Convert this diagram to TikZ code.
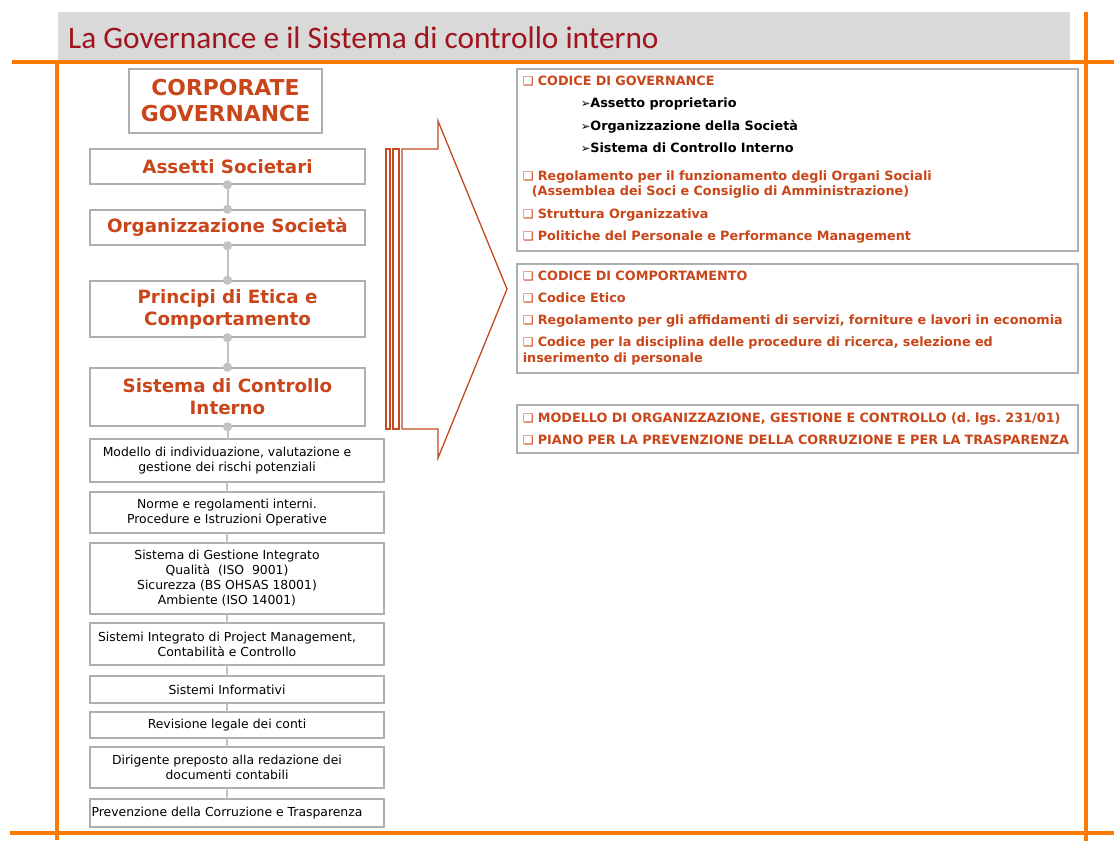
\documentclass[tikz,border=0pt]{standalone}
\usepackage{fontspec}
\usepackage{tikz}
\usetikzlibrary{arrows.meta}
\newfontfamily\verdana{DejaVu Sans}
\newfontfamily\calibri{Carlito}
\definecolor{orangeline}{RGB}{255,122,0}
\definecolor{titlered}{RGB}{160,20,30}
\definecolor{boxred}{RGB}{200,70,25}
\definecolor{boxgray}{RGB}{175,175,175}
\definecolor{dotgray}{RGB}{195,195,195}
\definecolor{bargray}{RGB}{217,217,217}
\definecolor{arrowred}{RGB}{195,75,35}
\newcommand{\sqbul}{{\fontsize{12}{12}\selectfont\char"2751}\ }
\newcommand{\subarr}{{\fontsize{11.5}{11.5}\selectfont\char"27A2}}
\frenchspacing

\begin{document}
\begin{tikzpicture}[x=1pt, y=-1pt,
    frame/.style={orangeline, line width=4pt},
    bigbox/.style={draw=boxgray, line width=1.5pt, fill=white, align=center, inner sep=0pt,
        text=boxred, font=\verdana\bfseries\fontsize{18.3}{22}\selectfont, minimum width=275pt},
    smallbox/.style={align=center, inner sep=0pt, minimum width=274pt,
        text=black, font=\verdana\fontsize{12.4}{15}\selectfont},
    smallframe/.style={boxgray, line width=1.5pt},
    listbox/.style={draw=boxgray, line width=1.5pt, anchor=north west, align=left, inner xsep=6pt,
        text width=549pt, text=boxred, font=\verdana\bfseries\fontsize{12.8}{15.5}\selectfont},
    link/.style={dotgray, line width=2pt},
    dotlink/.style={link, shorten <=-4.5pt, shorten >=-4.5pt, {Circle[length=9pt]}-{Circle[length=9pt]}},
    thinlink/.style={dotgray, line width=1.3pt}]
    \useasboundingbox (0,0) rectangle (1114,841);

    % frame and title
    \fill[bargray] (58,12) rectangle (1070,61);
    \draw[frame] (12,62) -- (1114,62);
    \draw[frame] (10,833) -- (1114,833);
    \draw[frame] (57,62) -- (57,840);
    \draw[frame] (1086,12) -- (1086,841);
    \node[anchor=west, inner sep=0pt, text=titlered, font=\calibri\fontsize{31.3}{33}\selectfont] (title) at (68,38) {La Governance e il Sistema di controllo interno};

    % left column
    \node[bigbox, minimum width=193pt, minimum height=64pt, font=\verdana\bfseries\fontsize{21.9}{26}\selectfont] (cg) at (225.5,101) {CORPORATE\\GOVERNANCE};
    \node[bigbox, minimum height=35pt] (as) at (227.5,166.5) {Assetti Societari};
    \node[bigbox, minimum height=35pt] (os) at (227.5,227.5) {Organizzazione Società};
    \node[bigbox, minimum height=56pt] (pe) at (227.5,309) {Principi di Etica e\\Comportamento};
    \node[bigbox, minimum height=58pt] (sc) at (227.5,397) {Sistema di Controllo\\Interno};

    \node[smallbox, minimum height=43pt] (m1) at (227,460.5) {Modello di individuazione, valutazione e\\gestione dei rischi potenziali};
    \node[smallbox, minimum height=41pt] (m2) at (227,512.5) {Norme e regolamenti interni.\\Procedure e Istruzioni Operative};
    \node[smallbox, minimum height=71pt] (m3) at (227,578.5) {Sistema di Gestione Integrato\\Qualità\ \ (ISO\ \ 9001)\\Sicurezza (BS OHSAS 18001)\\Ambiente (ISO 14001)};
    \node[smallbox, minimum height=42pt] (m4) at (227,644) {Sistemi Integrato di Project Management,\\Contabilità e Controllo};
    \node[smallbox, minimum height=27pt] (m5) at (227,689.5) {Sistemi Informativi};
    \node[smallbox, minimum height=26pt] (m6) at (227,725) {Revisione legale dei conti};
    \node[smallbox, minimum height=41pt] (m7) at (227,767.5) {Dirigente preposto alla redazione dei\\documenti contabili};
    \node[smallbox, minimum height=28pt] (m8) at (227,813) {Prevenzione della Corruzione e Trasparenza};
    \foreach \n in {m1,m2,m3,m4,m5,m6,m7,m8}
        \draw[smallframe] (\n.north west) rectangle ([xshift=20pt]\n.south east);

    \draw[dotlink] (as.south) -- (os.north);
    \draw[dotlink] (os.south) -- (pe.north);
    \draw[dotlink] (pe.south) -- (sc.north);
    \draw[link, shorten <=-4.5pt, {Circle[length=9pt]}-] (sc.south) -- (sc.south |- m1.north);
    \foreach \a/\b in {m1/m2, m2/m3, m3/m4, m4/m5, m5/m6, m6/m7, m7/m8}
        \draw[thinlink] (\a.south) -- (\b.north);

    % big arrow
    \draw[arrowred, line width=1.3pt] (386,149) rectangle (390,429);
    \draw[arrowred, line width=1.3pt] (393,149) rectangle (399,429);
    \draw[arrowred, line width=1.3pt, line join=miter] (402,149) -- (438,149) -- (438,121) -- (507,289)
        -- (438,458) -- (438,429) -- (402,429) -- cycle;

    % right column
    \node[listbox, minimum height=182pt] (gov) at (516,68) {%
        \sqbul CODICE DI GOVERNANCE\\[7pt]
        \hspace*{58pt}{\color{black}\subarr Assetto proprietario}\\[7pt]
        \hspace*{58pt}{\color{black}\subarr Organizzazione della Società}\\[7pt]
        \hspace*{58pt}{\color{black}\subarr Sistema di Controllo Interno}\\[12pt]
        \sqbul Regolamento per il funzionamento degli Organi Sociali\\
        \hspace*{9pt}(Assemblea dei Soci e Consiglio di Amministrazione)\\[7pt]
        \sqbul Struttura Organizzativa\\[7pt]
        \sqbul Politiche del Personale e Performance Management};
    \node[listbox, minimum height=109pt] (comp) at (516,263) {%
        \sqbul CODICE DI COMPORTAMENTO\\[6.5pt]
        \sqbul Codice Etico\\[6.5pt]
        \sqbul Regolamento per gli affidamenti di servizi, forniture e lavori in economia\\[6.5pt]
        \sqbul Codice per la disciplina delle procedure di ricerca, selezione ed\\
        inserimento di personale};
    \node[listbox, minimum height=48pt] (mod) at (516,404) {%
        \sqbul MODELLO DI ORGANIZZAZIONE, GESTIONE E CONTROLLO (d. lgs. 231/01)\\[6.5pt]
        \sqbul PIANO PER LA PREVENZIONE DELLA CORRUZIONE E PER LA TRASPARENZA};
\end{tikzpicture}
\end{document}
